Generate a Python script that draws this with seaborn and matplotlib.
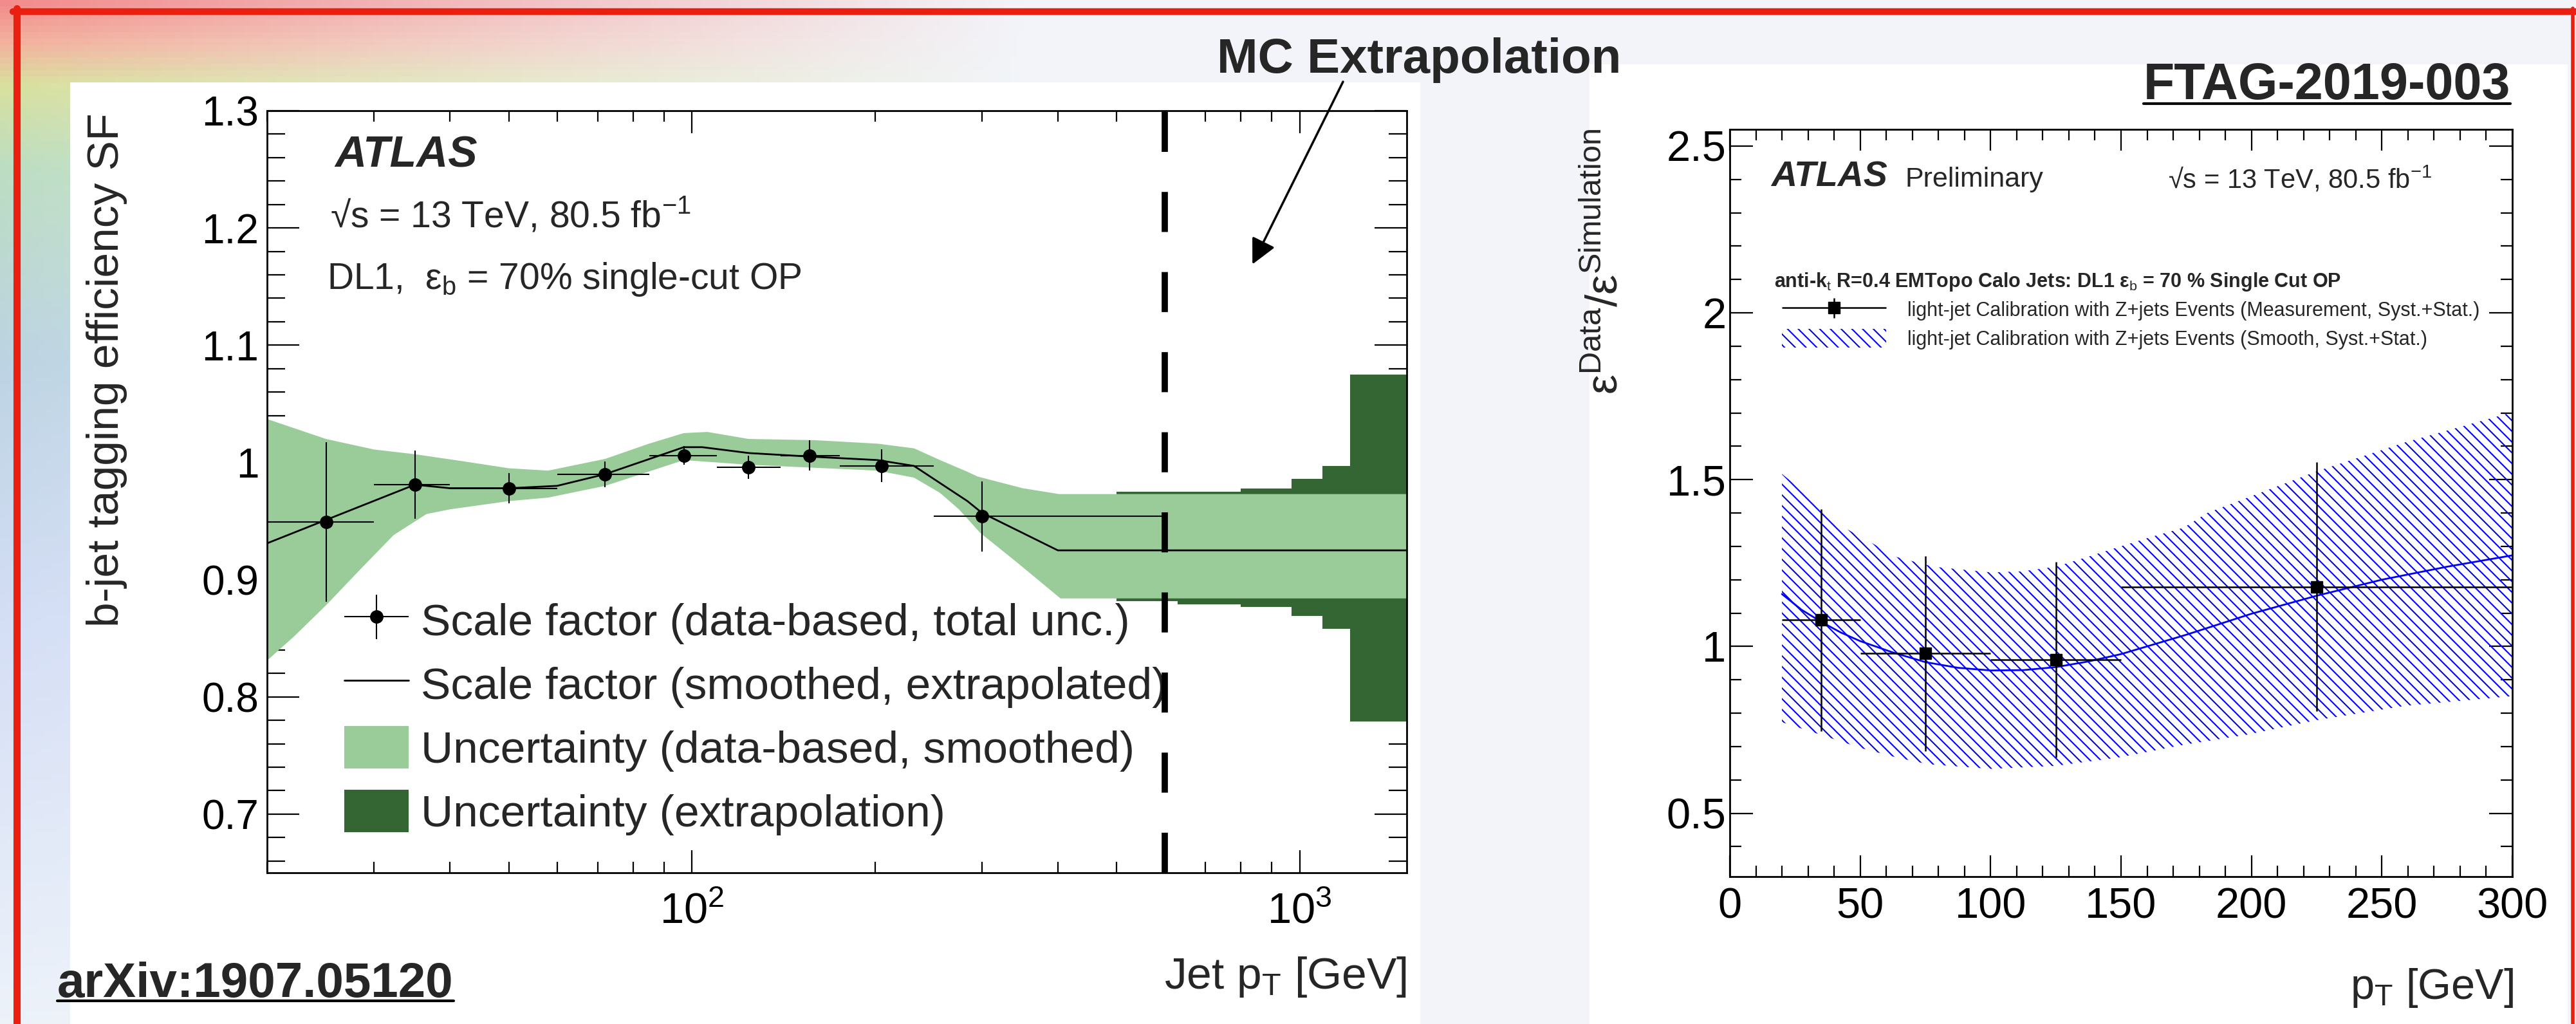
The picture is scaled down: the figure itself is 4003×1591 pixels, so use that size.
import numpy as np
import matplotlib
matplotlib.use('Agg')
from matplotlib import pyplot as plt
from matplotlib import ticker
from matplotlib.lines import Line2D
from matplotlib.patches import Patch, Rectangle
from matplotlib.legend_handler import HandlerErrorbar
import seaborn as sb

sb.set_theme(style='ticks')
plt.rcParams['font.family'] = ['Liberation Sans', 'DejaVu Sans']
plt.rcParams['mathtext.fontset'] = 'custom'
plt.rcParams['mathtext.rm'] = 'Liberation Sans'
plt.rcParams['mathtext.it'] = 'Liberation Sans:italic'
plt.rcParams['mathtext.bf'] = 'Liberation Sans:bold'
plt.rcParams['hatch.linewidth'] = 1.5

# ---- left panel: b-jet tagging SF (arXiv:1907.05120) ----
sf_pt = [25, 35, 50, 72, 97, 124, 156, 205, 300]
sf_lo = [20, 30, 40, 60, 85, 110, 140, 175, 250]
sf_hi = [30, 40, 60, 85, 110, 140, 175, 250, 600]
sf_val = [0.949, 0.981, 0.978, 0.990, 1.006, 0.996, 1.006, 0.997, 0.954]
sf_err = [0.068, 0.029, 0.013, 0.011, 0.008, 0.010, 0.013, 0.014, 0.030]

smooth_pt = [20, 35, 40, 50, 60, 72, 97, 104, 124, 156, 202, 232, 284, 300, 400, 1500]
smooth_sf = [0.931, 0.981, 0.978, 0.978, 0.980, 0.990, 1.013, 1.013, 1.008, 1.005,
             1.002, 0.997, 0.967, 0.957, 0.925, 0.925]

band_up_pt = [20, 25, 30, 35, 42, 50, 58, 72, 85, 97, 106, 124, 159, 202, 232, 256,
              284, 295, 350, 402, 1500]
band_up = [1.037, 1.020, 1.011, 1.007, 1.001, 0.995, 0.993, 1.003, 1.016, 1.025, 1.026,
           1.020, 1.019, 1.016, 1.012, 1.002, 0.992, 0.988, 0.978, 0.973, 0.973]
band_dn_pt = [20, 22.2, 25.1, 28.5, 32.3, 36.6, 40, 50, 58, 72, 97, 124, 202, 232, 256,
              275, 298, 344, 404, 1500]
band_dn = [0.831, 0.852, 0.879, 0.909, 0.938, 0.956, 0.960, 0.967, 0.970, 0.980, 1.002,
           0.998, 0.993, 0.987, 0.974, 0.960, 0.940, 0.914, 0.884, 0.884]

ext_edges = [500, 630, 800, 970, 1090, 1210, 1500]
ext_up = [0.975, 0.975, 0.978, 0.986, 0.997, 1.075]
ext_dn = [0.8815, 0.879, 0.877, 0.869, 0.858, 0.779]
mc_cut = 600

# ---- right panel: light-jet calibration (FTAG-2019-003) ----
lj_pt = [35, 75, 125, 225]
lj_xerr = [15, 25, 25, 75]
lj_val = [1.079, 0.979, 0.960, 1.179]
lj_err = [0.332, 0.292, 0.293, 0.373]

lj_smooth_pt = [20, 27.5, 35, 42.5, 50, 62.5, 75, 87.5, 100, 112.5, 125, 137.5, 150,
                175, 200, 225, 250, 275, 300]
lj_smooth = [1.157, 1.11, 1.074, 1.042, 1.016, 0.982, 0.953, 0.936, 0.928, 0.929, 0.938,
             0.955, 0.977, 1.035, 1.098, 1.152, 1.200, 1.239, 1.273]
lj_up_pt = [20, 35, 43, 54, 64, 78, 100, 112, 125, 137, 149, 161, 174, 183, 225, 259, 300]
lj_up = [1.517, 1.423, 1.36, 1.312, 1.268, 1.239, 1.222, 1.225, 1.239, 1.268, 1.298,
         1.327, 1.356, 1.40, 1.525, 1.612, 1.702]
lj_dn_pt = [20, 35, 50, 64, 76, 100, 125, 149, 174, 198, 225, 259, 300]
lj_dn = [0.773, 0.735, 0.696, 0.667, 0.647, 0.633, 0.642, 0.667, 0.705, 0.735, 0.779,
         0.822, 0.851]

light_green = '#99cc99'
dark_green = '#336633'

W, H = 4003, 1591
def fx(x):
    return x / W
def fy(y):
    return 1 - y / H

fig = plt.figure(figsize=(W / 100, H / 100), dpi=100)
fig.patch.set_facecolor('#f1f3f8')

# faded slide background
bg = fig.add_axes([0, 0, 1, 1], zorder=-10)
bg.axis('off')
yy = np.linspace(0, 1, 160)
xx = np.linspace(0, 1, 400)
stops = [0, 0.04, 0.08, 0.16, 0.35, 0.6, 1.0]
cols = np.array([[0.95, 0.55, 0.55], [0.95, 0.70, 0.62], [0.85, 0.88, 0.62],
                 [0.74, 0.87, 0.76], [0.74, 0.83, 0.89], [0.83, 0.87, 0.96],
                 [0.93, 0.95, 0.98]])
tint = np.stack([np.interp(yy, stops, cols[:, k]) for k in range(3)], axis=-1)[:, None, :]
w = np.clip(1 - xx / 0.4, 0, 1)[None, :, None]
base = np.array([0.95, 0.96, 0.98])
bg.imshow(base * (1 - w) + tint * w, aspect='auto', extent=[0, 1, 0, 1], origin='upper')

fig.add_artist(Rectangle((fx(109), 0), fx(2207) - fx(109), fy(128), transform=fig.transFigure,
                         facecolor='white', edgecolor='none', zorder=-5))
fig.add_artist(Rectangle((fx(2470), 0), fx(3990) - fx(2470), fy(100), transform=fig.transFigure,
                         facecolor='white', edgecolor='none', zorder=-5))

# ---------------- left plot ----------------
ax1 = fig.add_axes([fx(415), fy(1356), (2186 - 415) / W, (1356 - 172) / H])
ax1.set_xscale('log')
ax1.fill_between(ext_edges, ext_up + [ext_up[-1]], ext_dn + [ext_dn[-1]], step='post',
                 color=dark_green, lw=0, zorder=1)
ax1.fill(band_up_pt + band_dn_pt[::-1], band_up + band_dn[::-1], color=light_green, lw=0, zorder=1.5)
sb.lineplot(x=smooth_pt, y=smooth_sf, ax=ax1, color='black', lw=2, zorder=3)
h_sf = ax1.errorbar(sf_pt, sf_val,
                    xerr=[np.subtract(sf_pt, sf_lo), np.subtract(sf_hi, sf_pt)],
                    yerr=sf_err, fmt='o', color='black', ms=14, elinewidth=1.5, capsize=0, zorder=4)
ax1.axvline(mc_cut, color='black', lw=7, dashes=(6.4, 6.4), zorder=3.5)

ax1.set_xlim(20, 1500)
ax1.set_ylim(0.65, 1.3)
ax1.yaxis.set_major_locator(ticker.MultipleLocator(0.1))
ax1.yaxis.set_minor_locator(ticker.MultipleLocator(0.02))
ax1.yaxis.set_major_formatter(ticker.FuncFormatter(lambda v, _: f'{round(v, 2):g}'))
ax1.xaxis.set_minor_formatter(ticker.NullFormatter())
ax1.tick_params(which='both', direction='in', top=True, right=True, colors='black')
ax1.tick_params(axis='y', which='major', length=36, width=1.6, labelsize=46, pad=9)
ax1.tick_params(axis='y', which='minor', length=20, width=1.6)
ax1.tick_params(axis='x', which='major', length=25, width=1.6, labelsize=48, pad=22)
ax1.tick_params(axis='x', which='minor', length=12, width=1.6)
for s in ax1.spines.values():
    s.set_color('black')
    s.set_linewidth(2)
ax1.set_xlabel('')
ax1.set_ylabel('')

leg1 = ax1.legend([h_sf, Line2D([], [], color='black', lw=2),
                   Patch(facecolor=light_green, edgecolor='none'),
                   Patch(facecolor=dark_green, edgecolor='none')],
                  ['Scale factor (data-based, total unc.)',
                   'Scale factor (smoothed, extrapolated)',
                   'Uncertainty (data-based, smoothed)',
                   'Uncertainty (extrapolation)'],
                  loc='upper left', bbox_to_anchor=(fx(535), fy(930)), bbox_transform=fig.transFigure,
                  frameon=False, fontsize=50, handlelength=1.44, handleheight=1.08,
                  handletextpad=0.27, labelspacing=0.41, borderpad=0, borderaxespad=0,
                  handler_map={h_sf: HandlerErrorbar(xerr_size=0.72, yerr_size=0.5)})
leg1.set_zorder(3)

fig.text(fx(520), fy(260), 'ATLAS', fontsize=49, fontweight='bold', fontstyle='italic', va='baseline')
fig.text(fx(513), fy(352), '√s = 13 TeV, 80.5 fb$^{-1}$', fontsize=41, va='baseline')
fig.text(fx(508), fy(449), 'DL1,  ε$_{\\mathrm{b}}$ = 70% single-cut OP', fontsize=41, va='baseline')
fig.text(fx(166), fy(176), 'b-jet tagging efficiency SF', fontsize=50, rotation=90,
         ha='center', va='top')
fig.text(fx(2186), fy(1536), 'Jet p$_{\\mathrm{T}}$ [GeV]', fontsize=50, ha='right', va='baseline')

# MC extrapolation annotation
fig.text(fx(2205), fy(113), 'MC Extrapolation', fontsize=55, fontweight='bold',
         ha='center', va='baseline')
ax1.annotate('', xy=(836, 1.169), xycoords='data', xytext=(fx(2087), fy(127)),
             textcoords='figure fraction', annotation_clip=False,
             arrowprops=dict(arrowstyle='-|>', lw=2.5, color='black', mutation_scale=60,
                             shrinkA=0, shrinkB=0))

# ---------------- right plot ----------------
ax2 = fig.add_axes([fx(2688), fy(1362), (3904 - 2688) / W, (1362 - 201) / H])
ax2.fill(lj_up_pt + lj_dn_pt[::-1], lj_up + lj_dn[::-1], facecolor='none', edgecolor='#0000ff',
         hatch='\\\\', lw=0, zorder=1)
sb.lineplot(x=lj_smooth_pt, y=lj_smooth, ax=ax2, color='#0000ff', lw=2, zorder=2)
h_lj = ax2.errorbar(lj_pt, lj_val, xerr=lj_xerr, yerr=lj_err, fmt='s', color='black', ms=13,
                    elinewidth=1.8, capsize=0, zorder=3)
ax2.set_xlim(0, 300)
ax2.set_ylim(0.31, 2.55)
ax2.xaxis.set_major_locator(ticker.MultipleLocator(50))
ax2.xaxis.set_minor_locator(ticker.MultipleLocator(10))
ax2.yaxis.set_major_locator(ticker.MultipleLocator(0.5))
ax2.yaxis.set_minor_locator(ticker.MultipleLocator(0.1))
ax2.yaxis.set_major_formatter(ticker.FuncFormatter(lambda v, _: f'{round(v, 2):g}'))
ax2.tick_params(which='both', direction='in', top=True, right=True, colors='black')
ax2.tick_params(axis='y', which='major', length=26, width=1.6, labelsize=48, pad=4)
ax2.tick_params(axis='y', which='minor', length=13, width=1.6)
ax2.tick_params(axis='x', which='major', length=24, width=1.6, labelsize=48, pad=12)
ax2.tick_params(axis='x', which='minor', length=12, width=1.6)
for s in ax2.spines.values():
    s.set_color('black')
    s.set_linewidth(2)
ax2.set_xlabel('')
ax2.set_ylabel('')

ax2.legend([h_lj, Patch(facecolor='none', edgecolor='#0000ff', hatch='\\\\', lw=0)],
           ['light-jet Calibration with Z+jets Events (Measurement, Syst.+Stat.)',
            'light-jet Calibration with Z+jets Events (Smooth, Syst.+Stat.)'],
           loc='upper left', bbox_to_anchor=(fx(2769), fy(466)), bbox_transform=fig.transFigure,
           frameon=False, fontsize=22, handlelength=5.3, handleheight=1.05, handletextpad=1.08,
           labelspacing=0.45, borderpad=0, borderaxespad=0,
           handler_map={h_lj: HandlerErrorbar(xerr_size=2.66, yerr_size=0.5)})

fig.text(fx(2752), fy(290), 'ATLAS', fontsize=40, fontweight='bold', fontstyle='italic', va='baseline')
fig.text(fx(2960), fy(290), 'Preliminary', fontsize=31, va='baseline')
fig.text(fx(3369), fy(292), '√s = 13 TeV, 80.5 fb$^{-1}$', fontsize=30, va='baseline')
fig.text(fx(2757), fy(446),
         'anti-k$_{\\mathrm{t}}$ R=0.4 EMTopo Calo Jets: DL1 ε$_{\\mathrm{b}}$ = 70 % Single Cut OP',
         fontsize=22, fontweight='bold', va='baseline')
fig.text(fx(2495), fy(200), 'ε$^{\\mathrm{Data}}$/ε$^{\\mathrm{Simulation}}$', fontsize=50,
         rotation=90, ha='center', va='top')
fig.text(fx(3906), fy(1552), 'p$_{\\mathrm{T}}$ [GeV]', fontsize=48, ha='right', va='baseline')

# reference tags
t_arx = fig.text(fx(89), fy(1549), 'arXiv:1907.05120', fontsize=55, fontweight='bold', va='baseline')
t_ftag = fig.text(fx(3901), fy(154), 'FTAG-2019-003', fontsize=57, fontweight='bold',
                  ha='right', va='baseline')

# red slide frame
red = '#ea1f10'
fig.add_artist(Line2D([fx(20), 1], [fy(18), fy(18)], color=red, lw=7.5, transform=fig.transFigure))
fig.add_artist(Line2D([fx(25.5), fx(25.5)], [fy(13), 0], color=red, lw=8, transform=fig.transFigure))
fig.add_artist(Line2D([fx(3998), fx(3998)], [fy(13), 0], color=red, lw=4, transform=fig.transFigure))

# underline the tags
fig.canvas.draw()
r = fig.canvas.get_renderer()
for t, yline in [(t_arx, 1555), (t_ftag, 161)]:
    bb = t.get_window_extent(r)
    fig.add_artist(Line2D([bb.x0 / W, bb.x1 / W], [fy(yline), fy(yline)], color='black', lw=3,
                          transform=fig.transFigure))

plt.savefig('out.png', dpi=100, facecolor=fig.get_facecolor())
